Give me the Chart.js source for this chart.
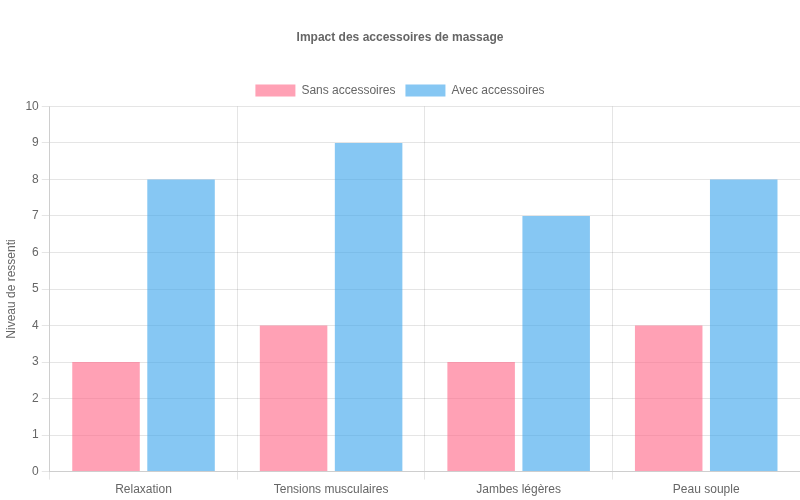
<!DOCTYPE html>
<html><head><meta charset="utf-8">
<script src="https://cdn.jsdelivr.net/npm/chart.js@4"></script>
<style>html,body{margin:0;padding:0;background:#fff}#w{width:800px;height:500px}</style>
</head><body><div id="w"><canvas id="c"></canvas></div>
<script>
const categories = ["Relaxation", "Tensions musculaires", "Jambes légères", "Peau souple"];
const sansValues = [3, 4, 3, 4];
const avecValues = [8, 9, 7, 8];
Chart.defaults.font.family = "'Liberation Sans', Arial, sans-serif";
new Chart(document.getElementById('c'), {
  type: 'bar',
  data: {
    labels: categories,
    datasets: [
      {label: 'Sans accessoires', data: sansValues, backgroundColor: 'rgba(255,99,132,0.6)'},
      {label: 'Avec accessoires', data: avecValues, backgroundColor: 'rgba(54,162,235,0.6)'}
    ]
  },
  options: {
    responsive: true, maintainAspectRatio: false, animation: false,
    layout: {padding: {top: 20}},
    plugins: {
      title: {display: true, text: 'Impact des accessoires de massage', padding: {top: 10, bottom: 30}},
      legend: {position: 'top'}
    },
    scales: {
      y: {min: 0, max: 10, ticks: {stepSize: 1}, title: {display: true, text: 'Niveau de ressenti'}}
    }
  }
});
</script></body></html>
